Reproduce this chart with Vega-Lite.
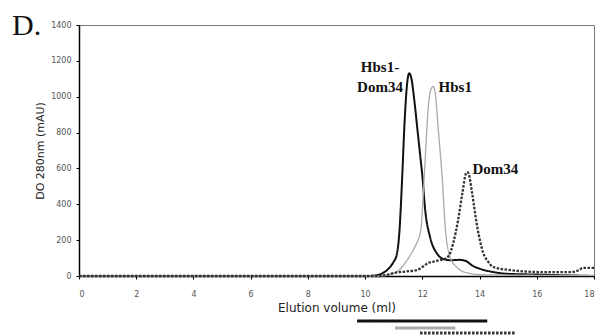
{
  "$schema": "https://vega.github.io/schema/vega-lite/v6.json",
  "autosize": {"type": "none"},
  "width": 515,
  "height": 251,
  "padding": {"left": 79, "top": 25, "right": 3, "bottom": 59},
  "background": "white",
  "config": {"view": {"stroke": "#777", "strokeWidth": 1}, "axis": {"labelOverlap": false}},
  "datasets": {
    "curves": [
      {"s": "Hbs1-Dom34", "x": 0, "y": 0}, {"s": "Hbs1-Dom34", "x": 10, "y": 0}, {"s": "Hbs1-Dom34", "x": 10.3, "y": 2}, {"s": "Hbs1-Dom34", "x": 10.6, "y": 15}, {"s": "Hbs1-Dom34", "x": 10.87, "y": 50}, {"s": "Hbs1-Dom34", "x": 11.0, "y": 80}, {"s": "Hbs1-Dom34", "x": 11.1, "y": 115}, {"s": "Hbs1-Dom34", "x": 11.2, "y": 250}, {"s": "Hbs1-Dom34", "x": 11.29, "y": 530}, {"s": "Hbs1-Dom34", "x": 11.38, "y": 860}, {"s": "Hbs1-Dom34", "x": 11.46, "y": 1060}, {"s": "Hbs1-Dom34", "x": 11.54, "y": 1131}, {"s": "Hbs1-Dom34", "x": 11.62, "y": 1100}, {"s": "Hbs1-Dom34", "x": 11.72, "y": 980}, {"s": "Hbs1-Dom34", "x": 11.82, "y": 830}, {"s": "Hbs1-Dom34", "x": 11.92, "y": 680}, {"s": "Hbs1-Dom34", "x": 12.0, "y": 560}, {"s": "Hbs1-Dom34", "x": 12.1, "y": 368}, {"s": "Hbs1-Dom34", "x": 12.27, "y": 217}, {"s": "Hbs1-Dom34", "x": 12.5, "y": 128}, {"s": "Hbs1-Dom34", "x": 12.73, "y": 95}, {"s": "Hbs1-Dom34", "x": 13.0, "y": 88}, {"s": "Hbs1-Dom34", "x": 13.3, "y": 90}, {"s": "Hbs1-Dom34", "x": 13.5, "y": 85}, {"s": "Hbs1-Dom34", "x": 13.78, "y": 55}, {"s": "Hbs1-Dom34", "x": 14.02, "y": 40}, {"s": "Hbs1-Dom34", "x": 14.48, "y": 22}, {"s": "Hbs1-Dom34", "x": 15, "y": 12}, {"s": "Hbs1-Dom34", "x": 16, "y": 8}, {"s": "Hbs1-Dom34", "x": 17, "y": 4}, {"s": "Hbs1-Dom34", "x": 18, "y": 0},
      {"s": "Hbs1", "x": 0, "y": 0}, {"s": "Hbs1", "x": 10.5, "y": 0}, {"s": "Hbs1", "x": 10.8, "y": 5}, {"s": "Hbs1", "x": 11.0, "y": 15}, {"s": "Hbs1", "x": 11.2, "y": 35}, {"s": "Hbs1", "x": 11.47, "y": 89}, {"s": "Hbs1", "x": 11.7, "y": 150}, {"s": "Hbs1", "x": 11.82, "y": 190}, {"s": "Hbs1", "x": 11.95, "y": 260}, {"s": "Hbs1", "x": 12.03, "y": 450}, {"s": "Hbs1", "x": 12.1, "y": 650}, {"s": "Hbs1", "x": 12.2, "y": 925}, {"s": "Hbs1", "x": 12.3, "y": 1040}, {"s": "Hbs1", "x": 12.38, "y": 1058}, {"s": "Hbs1", "x": 12.46, "y": 1010}, {"s": "Hbs1", "x": 12.55, "y": 830}, {"s": "Hbs1", "x": 12.62, "y": 700}, {"s": "Hbs1", "x": 12.69, "y": 560}, {"s": "Hbs1", "x": 12.8, "y": 273}, {"s": "Hbs1", "x": 12.97, "y": 106}, {"s": "Hbs1", "x": 13.2, "y": 50}, {"s": "Hbs1", "x": 13.57, "y": 17}, {"s": "Hbs1", "x": 14, "y": 8}, {"s": "Hbs1", "x": 15, "y": 5}, {"s": "Hbs1", "x": 18, "y": 3},
      {"s": "Dom34", "x": 0, "y": 0}, {"s": "Dom34", "x": 10.5, "y": 0}, {"s": "Dom34", "x": 10.8, "y": 8}, {"s": "Dom34", "x": 11.0, "y": 17}, {"s": "Dom34", "x": 11.4, "y": 25}, {"s": "Dom34", "x": 11.8, "y": 33}, {"s": "Dom34", "x": 12.0, "y": 50}, {"s": "Dom34", "x": 12.2, "y": 72}, {"s": "Dom34", "x": 12.5, "y": 84}, {"s": "Dom34", "x": 12.85, "y": 100}, {"s": "Dom34", "x": 13.0, "y": 140}, {"s": "Dom34", "x": 13.08, "y": 184}, {"s": "Dom34", "x": 13.25, "y": 312}, {"s": "Dom34", "x": 13.4, "y": 462}, {"s": "Dom34", "x": 13.53, "y": 574}, {"s": "Dom34", "x": 13.57, "y": 579}, {"s": "Dom34", "x": 13.62, "y": 570}, {"s": "Dom34", "x": 13.74, "y": 462}, {"s": "Dom34", "x": 13.92, "y": 273}, {"s": "Dom34", "x": 14.13, "y": 128}, {"s": "Dom34", "x": 14.3, "y": 80}, {"s": "Dom34", "x": 14.48, "y": 50}, {"s": "Dom34", "x": 15.07, "y": 33}, {"s": "Dom34", "x": 16.2, "y": 22}, {"s": "Dom34", "x": 17.2, "y": 22}, {"s": "Dom34", "x": 17.5, "y": 35}, {"s": "Dom34", "x": 17.6, "y": 45}, {"s": "Dom34", "x": 18, "y": 45}
    ],
    "bars": [
      {"s": "Hbs1-Dom34", "x": 9.72, "x2": 14.27, "y": -251},
      {"s": "Hbs1", "x": 11.05, "x2": 13.15, "y": -290},
      {"s": "Dom34", "x": 11.92, "x2": 15.24, "y": -318}
    ],
    "labels": [
      {"t": "Hbs1-", "x": 10.52, "y": 1164},
      {"t": "Dom34", "x": 10.52, "y": 1053},
      {"t": "Hbs1", "x": 13.15, "y": 1053},
      {"t": "Dom34", "x": 14.55, "y": 596}
    ],
    "panel": [
      {"t": "D.", "x": -2.34, "y": 1343}
    ]
  },
  "encoding": {
    "x": {"field": "x", "type": "quantitative", "scale": {"domain": [0, 18], "nice": false},
      "axis": {"title": "Elution volume (ml)", "values": [0, 2, 4, 6, 8, 10, 12, 14, 16, 18], "labelOverlap": false, "format": "d", "grid": false, "domainColor": "#000", "domainWidth": 1.5, "tickColor": "#000", "tickSize": 3, "labelFont": "DejaVu Sans", "labelFontSize": 8, "labelColor": "#555", "labelPadding": 11, "titleFont": "DejaVu Sans", "titleFontSize": 12, "titleFontWeight": "normal", "titleColor": "#222", "titlePadding": 4}},
    "y": {"field": "y", "type": "quantitative", "scale": {"domain": [0, 1400], "nice": false},
      "axis": {"title": "DO 280nm (mAU)", "values": [0, 200, 400, 600, 800, 1000, 1200, 1400], "labelOverlap": false, "format": "d", "grid": false, "domainColor": "#000", "domainWidth": 1.5, "tickColor": "#000", "tickSize": 3, "labelFont": "DejaVu Sans", "labelFontSize": 8, "labelColor": "#555", "labelPadding": 5, "titleFont": "DejaVu Sans", "titleFontSize": 11, "titleFontWeight": "normal", "titleColor": "#222", "titlePadding": 5}}
  },
  "layer": [
    {
      "data": {"name": "curves"},
      "mark": {"type": "line", "interpolate": "monotone"},
      "encoding": {
        "color": {"field": "s", "type": "nominal", "scale": {"domain": ["Hbs1-Dom34", "Hbs1", "Dom34"], "range": ["#111111", "#aaaaaa", "#333333"]}, "legend": null},
        "strokeDash": {"field": "s", "type": "nominal", "scale": {"domain": ["Hbs1-Dom34", "Hbs1", "Dom34"], "range": [[1, 0], [1, 0], [2.5, 1.5]]}, "legend": null},
        "strokeWidth": {"field": "s", "type": "nominal", "scale": {"type": "ordinal", "domain": ["Hbs1-Dom34", "Hbs1", "Dom34"], "range": [2, 1.3, 2.3]}, "legend": null}
      }
    },
    {
      "data": {"name": "bars"},
      "mark": {"type": "rule", "strokeWidth": 3, "clip": false},
      "encoding": {
        "x2": {"field": "x2"},
        "color": {"field": "s", "type": "nominal", "legend": null},
        "strokeDash": {"field": "s", "type": "nominal", "legend": null}
      }
    },
    {
      "data": {"name": "labels"},
      "mark": {"type": "text", "font": "Liberation Serif", "fontSize": 15, "fontWeight": "bold", "color": "#111", "align": "center", "baseline": "middle"},
      "encoding": {
        "text": {"field": "t"}
      }
    },
    {
      "data": {"name": "panel"},
      "mark": {"type": "text", "font": "Liberation Serif", "fontSize": 30, "fontWeight": "normal", "color": "#111", "align": "left", "baseline": "alphabetic"},
      "encoding": {
        "text": {"field": "t"}
      }
    }
  ]
}
